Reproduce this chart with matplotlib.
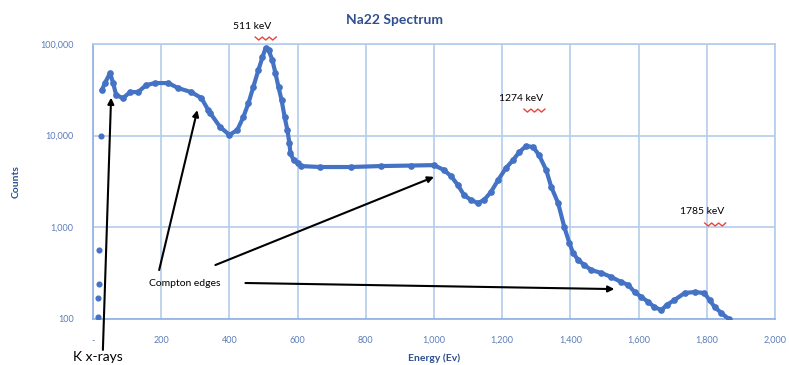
import numpy as np
import matplotlib.pyplot as plt
from matplotlib.ticker import FuncFormatter, FixedLocator

plt.rcParams['font.family'] = ['Lato', 'DejaVu Sans']

# first few channels (isolated points near 0 keV)
low_energy = [15, 16, 18, 19, 22]
low_counts = [105, 169, 241, 565, 9900]

# Na22 spectrum
energy = [26, 35, 50, 59, 68, 88, 109, 132, 156, 182, 221, 250, 288, 318, 338, 344,
          373, 400, 423, 441, 456, 470, 485, 497, 506, 515, 526, 535, 544, 553, 562,
          570, 576, 579, 588, 600, 609, 667, 756, 844, 932, 1000, 1029, 1050, 1070,
          1088, 1108, 1129, 1147, 1167, 1188, 1211, 1232, 1250, 1270, 1291, 1308,
          1329, 1344, 1364, 1382, 1397, 1408, 1423, 1441, 1461, 1491, 1520, 1549,
          1570, 1588, 1608, 1629, 1646, 1667, 1682, 1705, 1735, 1764, 1793, 1808,
          1823, 1843, 1864]
counts = [31400, 37500, 48200, 37500, 27700, 25700, 29900, 29900, 35600, 37500, 37500,
          33000, 29900, 25700, 19000, 17600, 12400, 10200, 11500, 16000, 22700, 33900,
          51900, 71900, 90200, 85700, 66700, 48200, 33900, 24400, 16000, 11500, 8300,
          6450, 5420, 5020, 4660, 4550, 4550, 4660, 4720, 4770, 4220, 3620, 2890, 2250,
          1990, 1840, 1990, 2430, 3280, 4430, 5420, 6620, 7700, 7520, 6140, 4220, 2750,
          1840, 1010, 674, 525, 440, 388, 342, 318, 287, 253, 235, 197, 174, 153, 135,
          125, 142, 161, 192, 197, 192, 161, 135, 116, 100]

peak_labels = ["511 keV", "1274 keV", "1785 keV"]
peak_label_pos = [(467, 157000), (1255, 25700), (1785, 1470)]

x_ticks = list(range(0, 2001, 200))
y_ticks = [100, 1000, 10000, 100000]

blue = '#4472C4'
grid_c = '#B4CCEC'
tick_c = '#5B7DB8'
title_c = '#2F4F8F'

fig = plt.figure(figsize=(7.89, 3.65), dpi=100)
ax = fig.add_axes([93 / 789, 1 - 319 / 365, (775 - 93) / 789, (319 - 44) / 365])

ax.plot(energy, counts, '-', color=blue, lw=3.0, marker='o', ms=3.8,
        mec=blue, mfc=blue, zorder=3)
ax.plot(low_energy, low_counts, 'o', color=blue, ms=3.4, zorder=3)

ax.set_yscale('log')
ax.set_xlim(0, 2000)
ax.set_ylim(100, 100000)
ax.xaxis.set_major_locator(FixedLocator(x_ticks))
ax.yaxis.set_major_locator(FixedLocator(y_ticks))
ax.yaxis.set_minor_locator(FixedLocator([]))
ax.xaxis.set_major_formatter(FuncFormatter(lambda v, p: '-' if v == 0 else '{:,.0f}'.format(v)))
ax.yaxis.set_major_formatter(FuncFormatter(lambda v, p: '{:,.0f}'.format(v)))
ax.tick_params(length=0, labelsize=6.5, colors=tick_c, pad=12)
ax.tick_params(axis='y', pad=14)
ax.grid(True, color=grid_c, lw=1.2)
ax.set_axisbelow(True)
for s in ax.spines.values():
    s.set_color(grid_c)
    s.set_linewidth(1.2)
ax.spines['left'].set_color('#8FB0E0')
ax.spines['bottom'].set_color('#8FB0E0')

fig.text(0.5, 1 - 20 / 365, "Na22 Spectrum", ha='center', va='center',
         fontsize=10, fontweight='bold', color=title_c)
ax.set_xlabel("Energy (Ev)", fontsize=7.5, fontweight='bold', color=title_c, labelpad=6)
ax.set_ylabel("Counts", fontsize=7.5, fontweight='bold', color=title_c, labelpad=14)

# peak labels with the red spell-check wave under "keV"
for lab, (px, py) in zip(peak_labels, peak_label_pos):
    ax.text(px, py, lab, ha='center', va='center', fontsize=7.5, color='black', clip_on=False)
    base = ax.transData.transform((px, py))
    xs = base[0] + 3 + np.arange(0, 22, 3.5)
    ys = base[1] - 11 + np.where(np.arange(len(xs)) % 2 == 0, 0, -3)
    fig.add_artist(plt.Line2D(xs, ys, color='#E8453C', lw=1, transform=None))

arrow = dict(arrowstyle='-|>', color='black', lw=1.5, mutation_scale=9, shrinkA=0, shrinkB=0)
ax.text(15, 38.5, "K x-rays", ha='center', va='center', fontsize=10, color='black', clip_on=False)
ax.annotate('', xy=(53, 26000), xytext=(29, 46), arrowprops=arrow, annotation_clip=False)

ax.text(270, 247, "Compton edges", ha='center', va='center', fontsize=7.5, color='black')
ax.annotate('', xy=(306, 19000), xytext=(194, 342), arrowprops=arrow, annotation_clip=False)
ax.annotate('', xy=(1000, 3550), xytext=(359, 388), arrowprops=arrow, annotation_clip=False)
ax.annotate('', xy=(1529, 212), xytext=(447, 247), arrowprops=arrow, annotation_clip=False)

fig.savefig('out.png', dpi=100)
